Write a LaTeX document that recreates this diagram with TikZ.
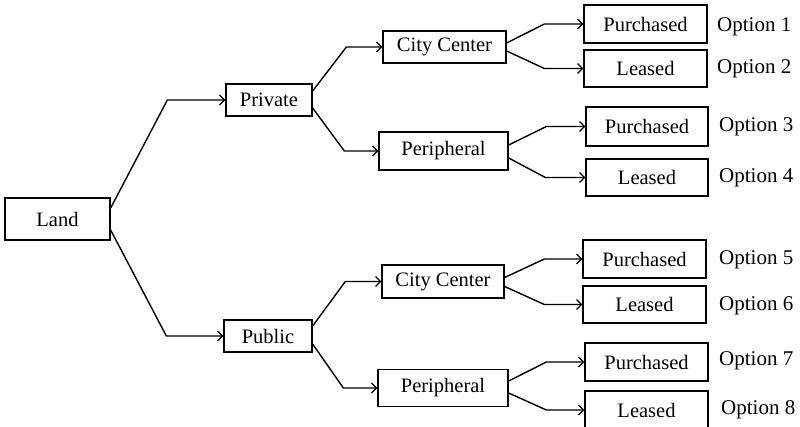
\documentclass[tikz,border=0pt]{standalone}
\usepackage{fontspec}
\setmainfont{Liberation Serif}
\usetikzlibrary{arrows.meta,calc}
\tikzset{
  box/.style={draw=black, line width=1.3pt, inner sep=0pt, font=\fontsize{20.5}{22}\selectfont},
  lbl/.style={anchor=west, inner sep=0pt, font=\fontsize{21}{22}\selectfont},
  conn/.style={line width=1.4pt, -{Straight Barb[length=5pt,width=10pt,line width=1.2pt]}}
}
\begin{document}
\begin{tikzpicture}[x=1pt,y=-1pt]
\useasboundingbox (0,0) rectangle (800,427);
% nodes
\node[box, minimum width=105, minimum height=42] (land) at (57.5,219) {Land};
\node[box, minimum width=86, minimum height=32] (priv) at (269,100) {Private};
\node[box, minimum width=88, minimum height=32] (pub) at (268,336) {Public};
\node[box, minimum width=123, minimum height=32] (cc1) at (444.5,47) {City Center};
\node[box, minimum width=129, minimum height=38] (per1) at (443.5,151) {Peripheral};
\node[box, minimum width=122, minimum height=33] (cc2) at (443,281.5) {City Center};
\node[box, minimum width=130, minimum height=37] (per2) at (443,388) {Peripheral};
\node[box, minimum width=123, minimum height=38] (p1) at (645.5,24) {Purchased};
\node[box, minimum width=123, minimum height=37] (l2) at (645.5,68.5) {Leased};
\node[box, minimum width=122, minimum height=39] (p3) at (647,126.5) {Purchased};
\node[box, minimum width=122, minimum height=37] (l4) at (647,177.5) {Leased};
\node[box, minimum width=123, minimum height=38] (p5) at (644.5,259) {Purchased};
\node[box, minimum width=123, minimum height=37] (l6) at (644.5,304.5) {Leased};
\node[box, minimum width=123, minimum height=38] (p7) at (646.5,362) {Purchased};
\node[box, minimum width=123, minimum height=38] (l8) at (646.5,410) {Leased};
% option labels
\node[lbl] (o1) at (717,27) {Option 1};
\node[lbl] (o2) at (717,69) {Option 2};
\node[lbl] (o3) at (719,127) {Option 3};
\node[lbl] (o4) at (719,178) {Option 4};
\node[lbl] (o5) at (719,260) {Option 5};
\node[lbl] (o6) at (719,306) {Option 6};
\node[lbl] (o7) at (719,361) {Option 7};
\node[lbl] (o8) at (721,410) {Option 8};
% connectors
\draw[conn] ($(land.east)+(0,-11)$) -- ($(priv.west)+(-58,0)$) -- (priv.west);
\draw[conn] ($(land.east)+(0,11)$) -- ($(pub.west)+(-57,0)$) -- (pub.west);
\draw[conn] ($(priv.east)+(0,-9)$) -- ($(cc1.west)+(-36,0)$) -- (cc1.west);
\draw[conn] ($(priv.east)+(0,8)$) -- ($(per1.west)+(-34,0)$) -- (per1.west);
\draw[conn] ($(pub.east)+(0,-10)$) -- ($(cc2.west)+(-36,0)$) -- (cc2.west);
\draw[conn] ($(pub.east)+(0,8)$) -- ($(per2.west)+(-34,0)$) -- (per2.west);
\draw[conn] ($(cc1.east)+(0,-4)$) -- ($(p1.west)+(-39,0)$) -- (p1.west);
\draw[conn] ($(cc1.east)+(0,4)$) -- ($(l2.west)+(-39,0)$) -- (l2.west);
\draw[conn] ($(per1.east)+(0,-6)$) -- ($(p3.west)+(-39,0)$) -- (p3.west);
\draw[conn] ($(per1.east)+(0,7)$) -- ($(l4.west)+(-40,0)$) -- (l4.west);
\draw[conn] ($(cc2.east)+(0,-4)$) -- ($(p5.west)+(-38,0)$) -- (p5.west);
\draw[conn] ($(cc2.east)+(0,5)$) -- ($(l6.west)+(-38,0)$) -- (l6.west);
\draw[conn] ($(per2.east)+(0,-7)$) -- ($(p7.west)+(-38,0)$) -- (p7.west);
\draw[conn] ($(per2.east)+(0,5)$) -- ($(l8.west)+(-38,0)$) -- (l8.west);
\end{tikzpicture}
\end{document}
